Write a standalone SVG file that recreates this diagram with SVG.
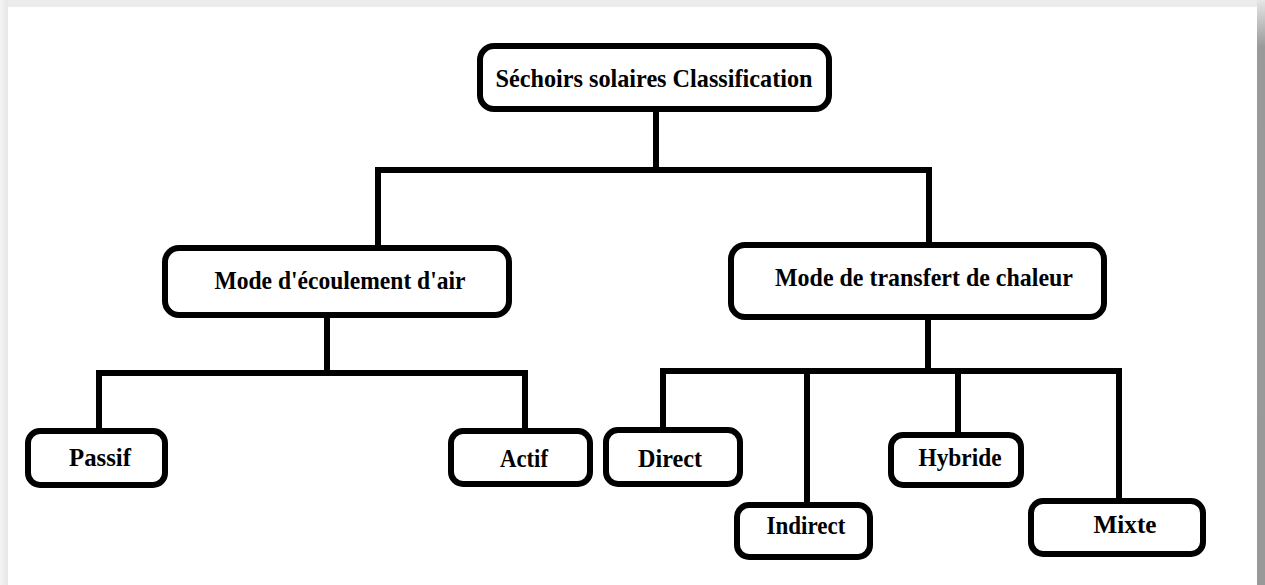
<svg xmlns="http://www.w3.org/2000/svg" width="1265" height="585" viewBox="0 0 1265 585">
  <defs>
    <linearGradient id="shR" x1="0" y1="0" x2="0" y2="1">
      <stop offset="0" stop-color="#e6e6e6"/>
      <stop offset="0.08" stop-color="#9a9a9a"/>
      <stop offset="1" stop-color="#999999"/>
    </linearGradient>
    <linearGradient id="shL" x1="0" y1="0" x2="1" y2="0">
      <stop offset="0" stop-color="#f4f4f4"/>
      <stop offset="1" stop-color="#e6e6e6"/>
    </linearGradient>
  </defs>
  <style>
    .box { fill: #ffffff; stroke: #000000; stroke-width: 6; }
    .lbl { font-family: "Liberation Serif", "Times New Roman", serif; font-weight: bold; font-size: 26px; fill: #000000; text-anchor: middle; }
    .conn { fill: none; stroke: #000000; stroke-width: 6; stroke-linejoin: miter; stroke-linecap: butt; }
  </style>
  <!-- page frame -->
  <rect x="0" y="0" width="1265" height="585" fill="#ececec"/>
  <rect x="0" y="0" width="8" height="585" fill="url(#shL)"/>
  <rect x="1257" y="0" width="8" height="585" fill="url(#shR)"/>
  <rect x="8" y="7" width="1249" height="578" fill="#ffffff"/>

  <g id="connectors">
    <path class="conn" d="M656 112 V170"/>
    <path class="conn" d="M378 245 V170 H929 V242"/>
    <path class="conn" d="M327 318 V373"/>
    <path class="conn" d="M99 428 V373 H525 V428"/>
    <path class="conn" d="M928 320 V371"/>
    <path class="conn" d="M663 427 V371 H1119 V498"/>
    <path class="conn" d="M807 371 V502"/>
    <path class="conn" d="M958 371 V432"/>
  </g>

  <g id="root">
    <rect class="box" x="480" y="46" width="349" height="63" rx="14" ry="14"/>
    <text class="lbl" x="654" y="87" textLength="317" lengthAdjust="spacingAndGlyphs">Séchoirs solaires Classification</text>
  </g>
  <g id="air">
    <rect class="box" x="165" y="248" width="344" height="67" rx="14" ry="14"/>
    <text class="lbl" x="340" y="289" textLength="251" lengthAdjust="spacingAndGlyphs">Mode d'écoulement d'air</text>
  </g>
  <g id="chaleur">
    <rect class="box" x="731" y="245" width="373" height="72" rx="14" ry="14"/>
    <text class="lbl" x="924" y="286" textLength="298" lengthAdjust="spacingAndGlyphs">Mode de transfert de chaleur</text>
  </g>
  <g id="passif">
    <rect class="box" x="28" y="431" width="137" height="54" rx="12" ry="12"/>
    <text class="lbl" x="100" y="466" textLength="62" lengthAdjust="spacingAndGlyphs">Passif</text>
  </g>
  <g id="actif">
    <rect class="box" x="451" y="431" width="139" height="53" rx="12" ry="12"/>
    <text class="lbl" x="524" y="467" textLength="48" lengthAdjust="spacingAndGlyphs">Actif</text>
  </g>
  <g id="direct">
    <rect class="box" x="606" y="430" width="134" height="54" rx="12" ry="12"/>
    <text class="lbl" x="670" y="467" textLength="64" lengthAdjust="spacingAndGlyphs">Direct</text>
  </g>
  <g id="indirect">
    <rect class="box" x="737" y="505" width="133" height="52" rx="12" ry="12"/>
    <text class="lbl" x="806" y="534" textLength="79" lengthAdjust="spacingAndGlyphs">Indirect</text>
  </g>
  <g id="hybride">
    <rect class="box" x="891" y="435" width="130" height="50" rx="12" ry="12"/>
    <text class="lbl" x="960" y="466" textLength="83" lengthAdjust="spacingAndGlyphs">Hybride</text>
  </g>
  <g id="mixte">
    <rect class="box" x="1031" y="501" width="172" height="53" rx="12" ry="12"/>
    <text class="lbl" x="1125" y="533" textLength="63" lengthAdjust="spacingAndGlyphs">Mixte</text>
  </g>
</svg>
